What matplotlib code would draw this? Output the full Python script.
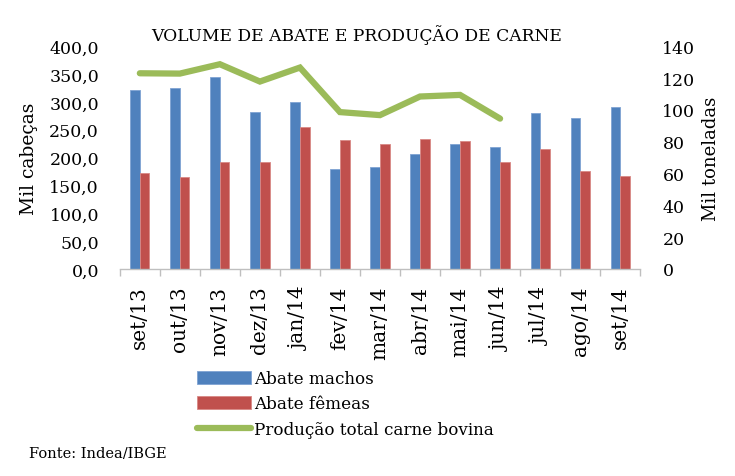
import numpy as np
import matplotlib.pyplot as plt
from matplotlib.ticker import FuncFormatter, MultipleLocator
from matplotlib.transforms import Bbox, TransformedBbox

# DADOS ---------------------------------------------------------------
meses = ["set/13", "out/13", "nov/13", "dez/13", "jan/14", "fev/14", "mar/14",
         "abr/14", "mai/14", "jun/14", "jul/14", "ago/14", "set/14"]
machos = [321, 325, 344, 282, 300, 180, 183, 206, 224, 219, 280, 271, 291]
femeas = [172, 165, 192, 192, 255, 232, 225, 233, 229, 193, 215, 176, 167]
producao = [123.0, 122.8, 128.7, 117.8, 126.6, 98.6, 96.7, 108.4, 109.4, 94.5]

AZUL = "#4F81BD"
VERMELHO = "#C0504D"
VERDE = "#9BBB59"

plt.rcParams["font.family"] = ["DejaVu Serif"]

fig = plt.figure(figsize=(7.35, 4.77), dpi=100)
ax = fig.add_axes([0.163, 0.434, 0.708, 0.467])

x = np.arange(len(meses))
w = 0.24
ax.bar(x - w / 2, machos, w, color=AZUL, edgecolor="#7FA3D3", linewidth=0.6, label="Abate machos")
ax.bar(x + w / 2, femeas, w, color=VERMELHO, edgecolor="#D98885", linewidth=0.6, label="Abate fêmeas")

ax.set_xlim(-0.5, len(meses) - 0.5)
ax.set_ylim(0, 400)
ax.yaxis.set_major_locator(MultipleLocator(50))
ax.yaxis.set_major_formatter(FuncFormatter(lambda v, p: "{:.1f}".format(v).replace(".", ",")))
ax.set_xticks(x)
ax.set_xticklabels(meses, rotation=90, fontsize=14.5)
ax.set_xticks(np.arange(-0.5, len(meses)), minor=True)
ax.tick_params(axis="x", which="major", length=0, pad=12)
ax.tick_params(axis="x", which="minor", length=5, color="#BFBFBF", width=1)
ax.tick_params(axis="y", length=0, labelsize=12.5, pad=15)
ax.set_ylabel("Mil cabeças", fontsize=13.5, labelpad=8)

for s in ["top", "left", "right"]:
    ax.spines[s].set_visible(False)
ax.spines["bottom"].set_color("#BFBFBF")
ax.spines["bottom"].set_linewidth(1)

ax2 = ax.twinx()
ax2.plot(x[:len(producao)], producao, color=VERDE, linewidth=4.5,
         solid_capstyle="round", solid_joinstyle="miter", label="Produção total carne bovina")
ax2.set_ylim(0, 140)
ax2.yaxis.set_major_locator(MultipleLocator(20))
ax2.tick_params(axis="y", length=0, labelsize=12.5, pad=16)
ax2.set_ylabel("Mil toneladas", fontsize=13, labelpad=5)
for s in ["top", "left", "right", "bottom"]:
    ax2.spines[s].set_visible(False)

fig.text(0.485, 0.914, "VOLUME DE ABATE E PRODUÇÃO DE CARNE", ha="center",
         va="baseline", fontsize=12.3)

h1, l1 = ax.get_legend_handles_labels()
h2, l2 = ax2.get_legend_handles_labels()
fig.legend(h1 + h2, l1 + l2, loc="upper left", bbox_to_anchor=(0.257, 0.240),
           frameon=False, fontsize=12.1, handlelength=3.2, handleheight=0.8,
           handletextpad=0.2, labelspacing=0.5, borderpad=0)

fonte = fig.text(0.04, 0.040, "Fonte: Indea/IBGE", fontsize=10.5, va="baseline")
fonte.set_clip_box(TransformedBbox(Bbox([[0, 17 / 477], [1, 1]]), fig.transFigure))
fonte.set_clip_on(True)

fig.savefig("out.png", dpi=100)
